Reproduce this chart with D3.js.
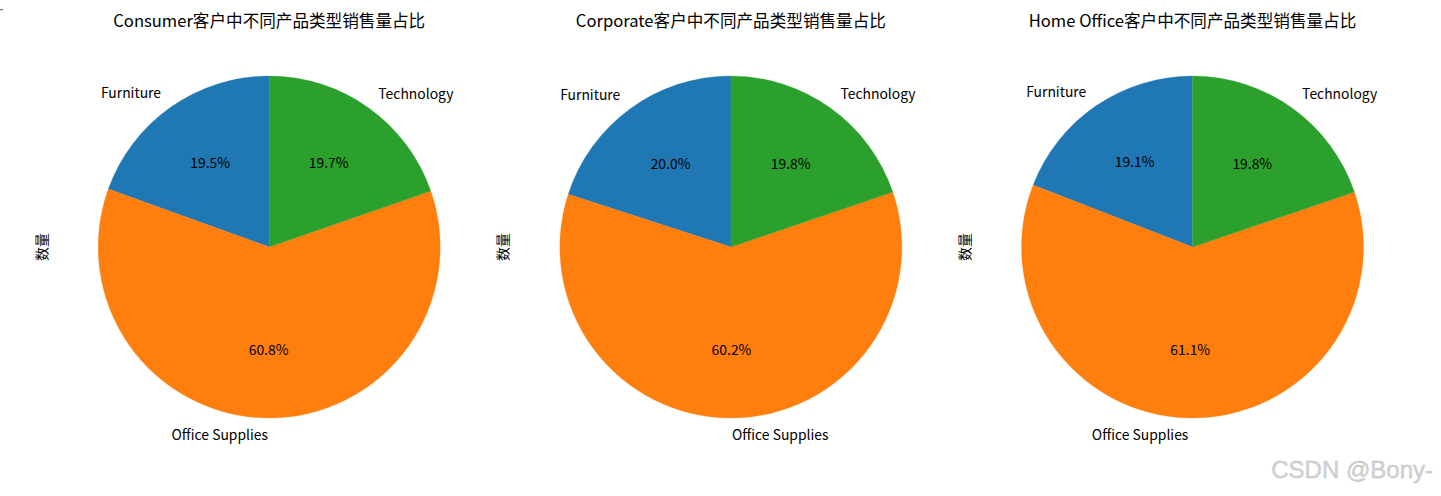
<!DOCTYPE html>
<html>
<head>
<meta charset="utf-8">
<script src="https://cdn.jsdelivr.net/npm/d3@7"></script>
<style>
  body { margin: 0; background: #fff; }
  svg text { font-family: "Noto Sans CJK SC", "Noto Sans", sans-serif; fill: #000; }
</style>
</head>
<body>
<div id="chart"></div>
<script>
(function() {

  var categories = ["Furniture", "Office Supplies", "Technology"];
  var segments = ["Consumer", "Corporate", "Home Office"];

  // share of sales quantity (%) per segment
  var consumerValues = [19.5, 60.8, 19.7],
      corporateValues = [20.0, 60.2, 19.8],
      homeOfficeValues = [19.1, 61.1, 19.8];

  var seriesValues = [consumerValues, corporateValues, homeOfficeValues];
  var colors = ["#1f77b4", "#ff7f0e", "#2ca02c"];

  var width = 1441,
      height = 496,
      radius = 171,
      cy = 247,
      textShift = -1; // nudge for the CJK font's central baseline

  var cx = d3.scalePoint()
      .domain(segments)
      .range([269.2, 1192.5]);

  var color = d3.scaleOrdinal()
      .domain(categories)
      .range(colors);

  var svg = d3.select("#chart").append("svg")
      .attr("width", width)
      .attr("height", height);

  // tiny mark at top-left corner of the original image
  svg.append("rect")
      .attr("x", 0).attr("y", 9)
      .attr("width", 3).attr("height", 1.2)
      .attr("fill", "#777");

  // matplotlib style: start at 12 o'clock, go counter-clockwise
  var pie = d3.pie()
      .sort(null)
      .startAngle(0)
      .endAngle(-2 * Math.PI);

  var arc = d3.arc()
      .innerRadius(0)
      .outerRadius(radius);

  var pct = d3.format(".1f");

  segments.forEach(function(seg, i) {
    var vals = seriesValues[i],
        total = d3.sum(vals),
        g = svg.append("g")
          .attr("transform", "translate(" + cx(seg) + "," + cy + ")");

    var arcs = pie(vals);

    g.selectAll("path")
        .data(arcs)
      .enter().append("path")
        .attr("d", arc)
        .attr("fill", function(d, j) { return color(categories[j]); })
        .attr("stroke", function(d, j) { return color(categories[j]); })
        .attr("stroke-width", 0.3);

    arcs.forEach(function(d, j) {
      var mid = (d.startAngle + d.endAngle) / 2,
          sx = Math.sin(mid),
          sy = -Math.cos(mid);

      var lx = sx * radius * 1.1;
      g.append("text")
          .attr("x", lx)
          .attr("y", sy * radius * 1.1 + textShift)
          .attr("text-anchor", lx > 0 ? "start" : "end")
          .attr("dominant-baseline", "central")
          .style("font-size", "13.9px")
          .text(categories[j]);

      g.append("text")
          .attr("x", sx * radius * 0.6)
          .attr("y", sy * radius * 0.6 + textShift)
          .attr("text-anchor", "middle")
          .attr("dominant-baseline", "central")
          .style("font-size", "13.9px")
          .text(pct(vals[j] / total * 100) + "%");
    });

    g.append("text")
        .attr("x", 0)
        .attr("y", 21 - cy + textShift)
        .attr("text-anchor", "middle")
        .attr("dominant-baseline", "central")
        .style("font-size", "16.6px")
        .text(seg + "客户中不同产品类型销售量占比");

    g.append("text")
        .attr("transform", "translate(-228.5,0) rotate(-90)")
        .attr("text-anchor", "middle")
        .attr("dominant-baseline", "central")
        .style("font-size", "13.9px")
        .text("数量");
  });

  // watermark
  svg.append("text")
      .attr("x", 1433)
      .attr("y", 478)
      .attr("text-anchor", "end")
      .style("font-family", "'Liberation Sans', Arial, sans-serif")
      .style("font-size", "24px")
      .style("fill", "#d4d4d4")
      .style("stroke", "#bdbdbd")
      .style("stroke-width", 0.4)
      .text("CSDN @Bony-");

})();
</script>
</body>
</html>
